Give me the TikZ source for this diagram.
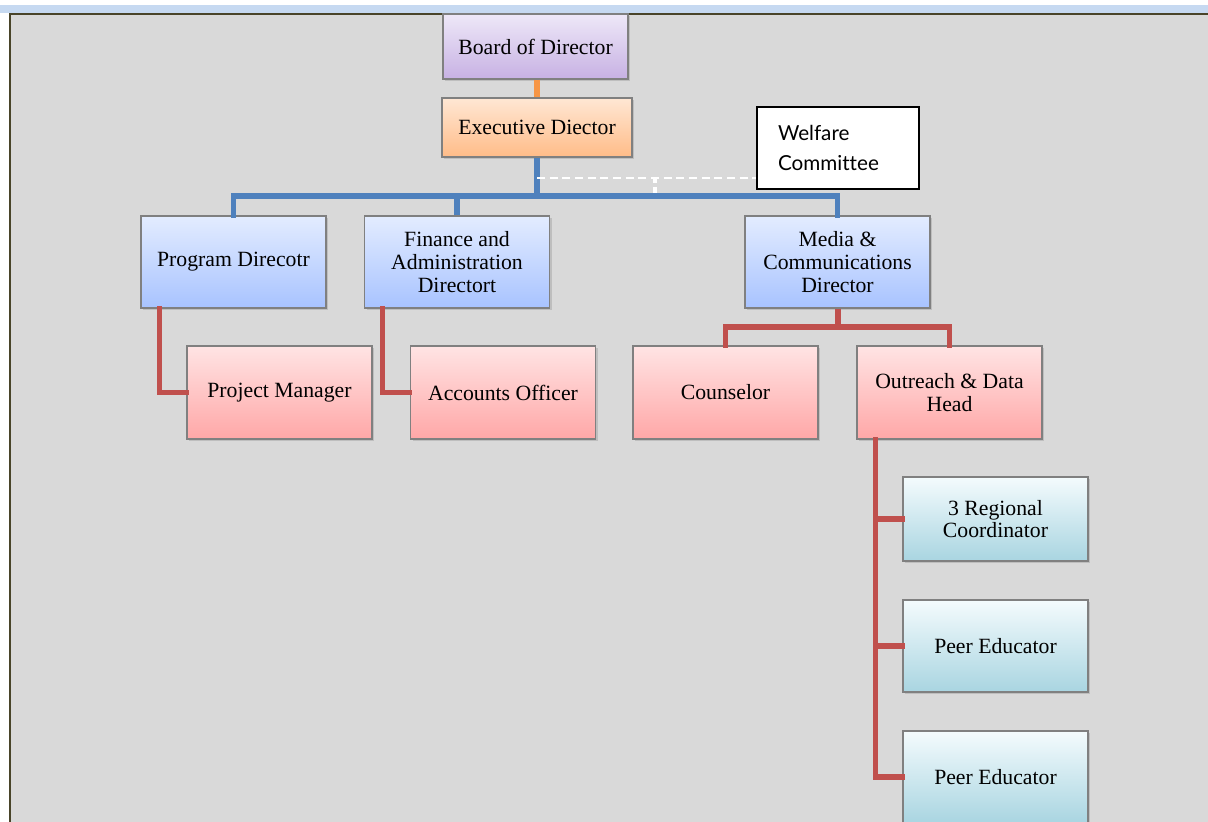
\documentclass[tikz,border=0pt]{standalone}
\usepackage{fontspec}
\setmainfont{Liberation Serif}
\newfontfamily\notefont{Lato}[Ligatures=NoCommon]
\usetikzlibrary{calc, shadows}
\definecolor{bandblue}{HTML}{C6D9F1}
\definecolor{panelgray}{HTML}{D9D9D9}
\definecolor{paneledge}{HTML}{494429}
\definecolor{boxedge}{HTML}{808080}
\definecolor{purpletop}{HTML}{EEE8F8}
\definecolor{purplebot}{HTML}{C7B1E3}
\definecolor{orangetop}{HTML}{FFE7D4}
\definecolor{orangebot}{HTML}{FFBC88}
\definecolor{bluetop}{HTML}{E3ECFF}
\definecolor{bluebot}{HTML}{A8C3FF}
\definecolor{pinktop}{HTML}{FFE4E4}
\definecolor{pinkbot}{HTML}{FFA7A7}
\definecolor{cyantop}{HTML}{F4FBFD}
\definecolor{cyanbot}{HTML}{A9D5E1}
\definecolor{lineorange}{HTML}{F79646}
\definecolor{lineblue}{HTML}{4F81BD}
\definecolor{linered}{HTML}{C0504D}
\tikzset{
	defaultnode/.style={
			rectangle,
			draw=boxedge,
			line width=1.1pt,
			inner sep=2pt,
			align=center,
			font=\fontsize{16.3}{17}\selectfont,
			minimum width=138.75pt,
			drop shadow={shadow xshift=1.5pt, shadow yshift=-1.5pt, opacity=0.3}
		},
	boardnode/.style={
			defaultnode,
			top color=purpletop,
			bottom color=purplebot,
			minimum height=48.75pt
		},
	execnode/.style={
			defaultnode,
			top color=orangetop,
			bottom color=orangebot,
			minimum width=142.5pt,
			minimum height=44.25pt
		},
	dirnode/.style={
			defaultnode,
			top color=bluetop,
			bottom color=bluebot,
			minimum height=69pt
		},
	staffnode/.style={
			defaultnode,
			top color=pinktop,
			bottom color=pinkbot,
			minimum height=69.75pt
		},
	fieldnode/.style={
			defaultnode,
			top color=cyantop,
			bottom color=cyanbot
		},
	notenode/.style={
			rectangle,
			draw=black,
			line width=0.9pt,
			fill=white,
			minimum width=121.5pt,
			minimum height=61.5pt,
			text width=90pt,
			align=left,
			font=\notefont\fontsize{15.5}{22.5}\selectfont
		},
	link/.style={
			line width=4pt,
			line cap=rect
		}
}

\begin{document}
\begin{tikzpicture}[x=0.75pt, y=-0.75pt]
\useasboundingbox (0,0) rectangle (1208,822);
\clip (0,0) rectangle (1208,822);
\fill[white] (0,0) rectangle (1208,822);
\fill[bandblue] (0,5) rectangle (1208,13);
\fill[panelgray] (10,13) rectangle (1210,824);
\draw[paneledge, line width=1.8pt] (10,826) -- (10,14) -- (1210,14);

\node[boardnode] (n1) at (535.5,46.5) {Board of Director};
\node[execnode] (n2) at (537,127.5) {Executive Diector};
\node[notenode] (wc) at (838,148) {Welfare\\Committee};

\node[dirnode] (n3) at (233.5,262) {Program Direcotr};
\node[dirnode] (n4) at (457,262) {Finance and\\Administration\\Directort};
\node[dirnode] (n5) at (837.5,262) {Media \&\\Communications\\Director};

\node[staffnode] (n6) at (279.5,392.5) {Project Manager};
\node[staffnode] (n7) at (503,392.5) {Accounts Officer};
\node[staffnode] (n8) at (725.5,392.5) {Counselor};
\node[staffnode] (n9) at (949.5,392.5) {Outreach \& Data\\Head};

\node[fieldnode, minimum height=63pt] (n10) at (995.5,519) {3 Regional\\Coordinator};
\node[fieldnode, minimum height=69pt] (n11) at (995.5,646) {Peer Educator};
\node[fieldnode, minimum height=69pt] (n12) at (995.5,777) {Peer Educator};

\coordinate (bus) at (537,196);
\coordinate (mbus) at (838,327);
\coordinate (d1) at (537,178);
\coordinate (d2) at (655,178);

\draw[link, lineorange, line cap=butt] (n2.north |- n1.south) -- (n2.north);

\draw[link, lineblue, line cap=butt] (n2.south) -- (bus);
\draw[link, lineblue] (n3.north) |- (bus) -| (n5.north);
\draw[link, lineblue, line cap=butt] (n4.north) -- (n4.north |- bus);

\draw[white, line width=1.5pt, dash pattern=on 6pt off 3.5pt] (d1) -- (d1 -| wc.west);
\draw[white, line width=3.5pt, dash pattern=on 4pt off 3pt] (d2) -- (d2 |- bus);

\draw[link, linered] ($(n3.south west)+(19,0)$) |- (n6.west);
\draw[link, linered] ($(n4.south west)+(19,0)$) |- (n7.west);
\draw[link, linered, line cap=butt] (mbus |- n5.south) -- (mbus);
\draw[link, linered] (n8.north) |- (mbus) -| (n9.north);

\draw[link, linered] ($(n9.south west)+(19,0)$) |- (n12.west);
\draw[link, linered] ($(n9.south west)+(19,0)$) |- (n10.west);
\draw[link, linered] ($(n9.south west)+(19,0)$) |- (n11.west);
%\draw[link, linered] (n10.west) -- (n11.west);
\end{tikzpicture}
\end{document}
